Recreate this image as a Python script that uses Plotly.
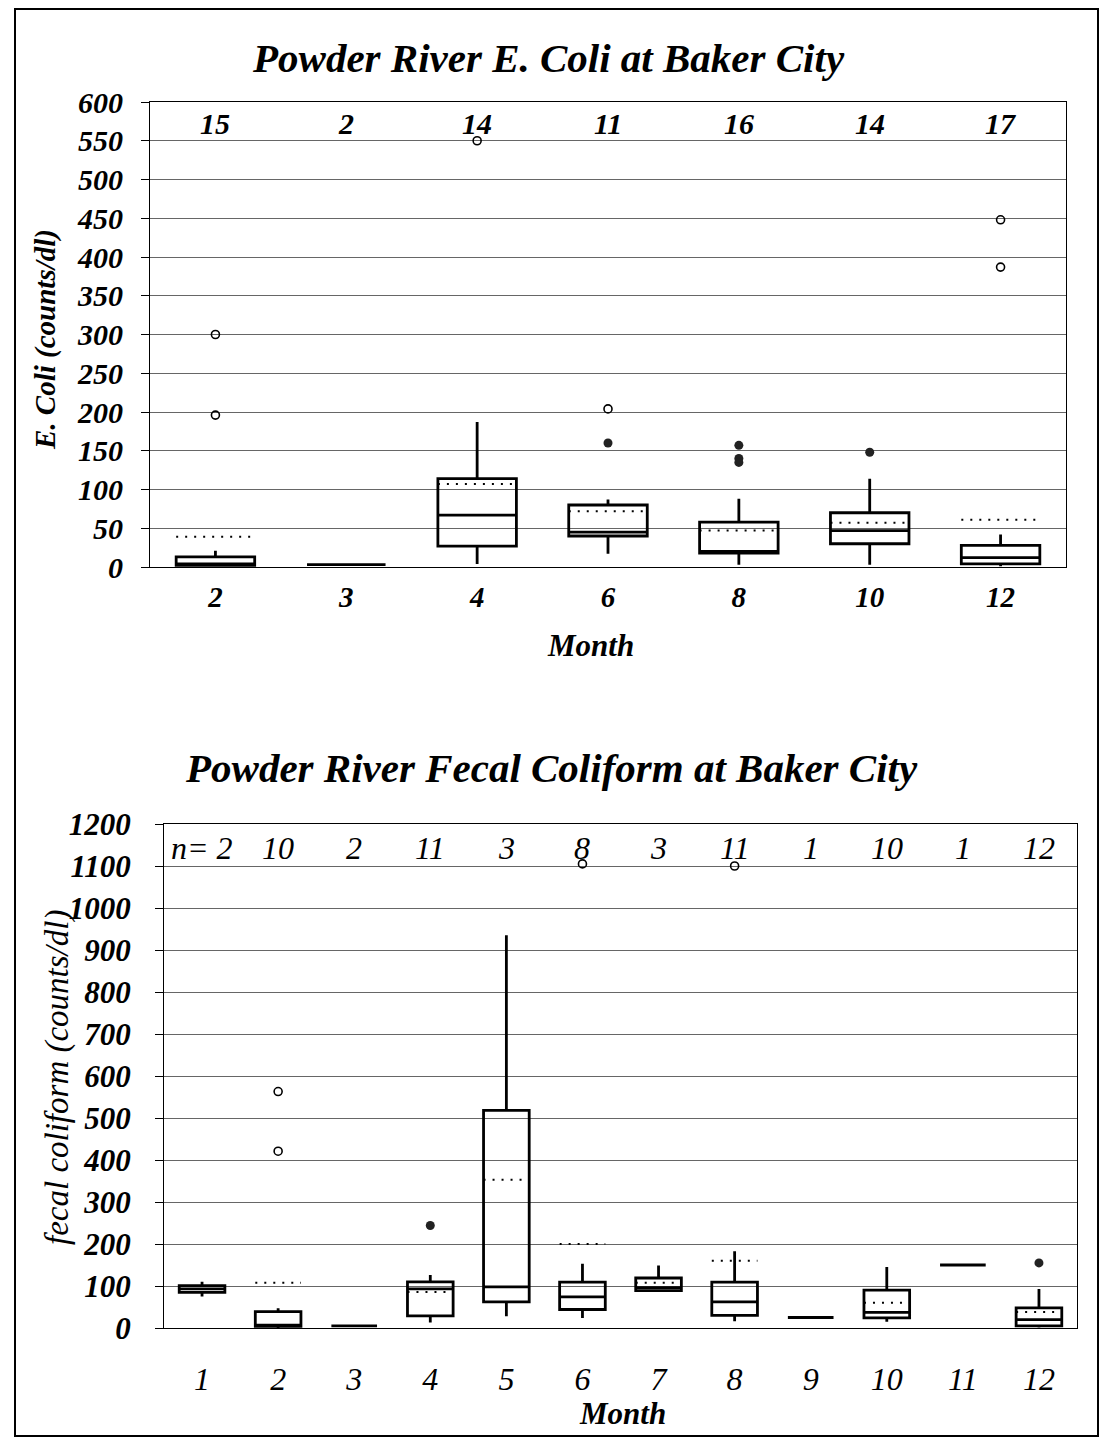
import plotly.graph_objects as go

W, H = 1101, 1442

# ---------------- Top chart: E. coli ----------------
ec_months = ["2", "3", "4", "6", "8", "10", "12"]
ec_n = [15, 2, 14, 11, 16, 14, 17]
ec_q1 = [2, 3, 27, 40, 18, 30, 4]
ec_median = [4, 3, 67, 45, 20, 47, 12]
ec_q3 = [13, 3, 114, 80, 58, 70, 28]
ec_low = [2, 3, 4, 17, 3, 3, 1]
ec_high = [21, 3, 187, 87, 88, 114, 42]
ec_mean = [39, None, 107, 72, 47, 57, 61]
ec_open_month = ["2", "2", "4", "6", "12", "12"]
ec_open_val = [300, 196, 550, 204, 448, 387]
ec_fill_month = ["6", "8", "8", "8", "10"]
ec_fill_val = [160, 157, 140, 135, 148]

# ---------------- Bottom chart: fecal coliform ----------------
fc_months = ["1", "2", "3", "4", "5", "6", "7", "8", "9", "10", "11", "12"]
fc_n = [2, 10, 2, 11, 3, 8, 3, 11, 1, 10, 1, 12]
fc_q1 = [85, 4, 5, 29, 62, 44, 89, 30, 25, 24, 150, 5]
fc_median = [93, 7, 5, 93, 98, 74, 96, 62, 25, 37, 150, 20]
fc_q3 = [101, 39, 5, 110, 518, 109, 119, 109, 25, 90, 150, 48]
fc_low = [75, 0, 5, 13, 28, 24, 89, 16, 25, 15, 150, 1]
fc_high = [110, 47, 5, 126, 935, 153, 149, 183, 25, 145, 150, 93]
fc_mean = [None, 108, None, 86, 353, 200, 108, 160, None, 60, None, 38]
fc_open_month = ["2", "2", "6", "8"]
fc_open_val = [563, 421, 1105, 1100]
fc_fill_month = ["4", "12"]
fc_fill_val = [244, 155]

FONT = "Liberation Serif"
BOX_W = 0.6


def bi(size):
    return dict(family=FONT, size=size, color="black", style="italic", weight="bold")


def it(size):
    return dict(family=FONT, size=size, color="black", style="italic", weight="normal")


fig = go.Figure()


def add_panel(months, q1, med, q3, lo, hi, mean, om, ov, fm, fv, xa, ya):
    idx = list(range(len(months)))
    pos = {m: i for i, m in enumerate(months)}
    fig.add_trace(go.Box(
        x=idx, q1=q1, median=med, q3=q3, lowerfence=lo, upperfence=hi,
        width=BOX_W, whiskerwidth=0, boxpoints=False,
        line=dict(color="black", width=2.8), fillcolor="rgba(0,0,0,0)",
        xaxis=xa, yaxis=ya, showlegend=False, hoverinfo="skip"))
    mx, my = [], []
    for i, m in zip(idx, mean):
        if m is None:
            continue
        mx += [i - BOX_W / 2, i + BOX_W / 2, None]
        my += [m, m, None]
    fig.add_trace(go.Scatter(
        x=mx, y=my, mode="lines", line=dict(color="black", width=2, dash="2px,7px"),
        xaxis=xa, yaxis=ya, showlegend=False, hoverinfo="skip"))
    fig.add_trace(go.Scatter(
        x=[pos[m] for m in om], y=ov, mode="markers",
        marker=dict(symbol="circle-open", size=8, color="black", line=dict(width=1.6)),
        xaxis=xa, yaxis=ya, showlegend=False, hoverinfo="skip"))
    fig.add_trace(go.Scatter(
        x=[pos[m] for m in fm], y=fv, mode="markers",
        marker=dict(symbol="circle", size=9, color="#222"),
        xaxis=xa, yaxis=ya, showlegend=False, hoverinfo="skip"))


add_panel(ec_months, ec_q1, ec_median, ec_q3, ec_low, ec_high, ec_mean,
          ec_open_month, ec_open_val, ec_fill_month, ec_fill_val, "x", "y")
add_panel(fc_months, fc_q1, fc_median, fc_q3, fc_low, fc_high, fc_mean,
          fc_open_month, fc_open_val, fc_fill_month, fc_fill_val, "x2", "y2")


def px_x(p):
    return p / W


def px_y(p):
    return 1 - p / H


annotations = []
# n labels
for i, n in enumerate(ec_n):
    annotations.append(dict(x=i, y=572, xref="x", yref="y", text=str(n),
                            showarrow=False, font=bi(30), yanchor="middle"))
for i, n in enumerate(fc_n):
    t = ("n= " + str(n)) if i == 0 else str(n)
    annotations.append(dict(x=i, y=1143, xref="x2", yref="y2", text=t,
                            showarrow=False, font=it(32), yanchor="middle"))

# titles
annotations += [
    dict(x=px_x(548), y=px_y(58), xref="paper", yref="paper", text="Powder River E. Coli at Baker City",
         showarrow=False, font=bi(41), xanchor="center", yanchor="middle"),
    dict(x=px_x(551), y=px_y(768), xref="paper", yref="paper",
         text="Powder River Fecal Coliform at Baker City",
         showarrow=False, font=bi(41), xanchor="center", yanchor="middle"),
    dict(x=px_x(590), y=px_y(645), xref="paper", yref="paper", text="Month",
         showarrow=False, font=bi(31), xanchor="center", yanchor="middle"),
    dict(x=px_x(622), y=px_y(1413), xref="paper", yref="paper", text="Month",
         showarrow=False, font=bi(31), xanchor="center", yanchor="middle"),
    dict(x=px_x(45), y=px_y(340), xref="paper", yref="paper", text="E. Coli (counts/dl)",
         showarrow=False, font=bi(29), textangle=-90, xanchor="center", yanchor="middle"),
    dict(x=px_x(57), y=px_y(1078), xref="paper", yref="paper", text="fecal coliform (counts/dl)",
         showarrow=False, font=it(33), textangle=-90, xanchor="center", yanchor="middle"),
]

axis_common = dict(showline=True, linecolor="black", linewidth=1, mirror=True, zeroline=False,
                   automargin=False)

fig.update_layout(
    width=W, height=H, autosize=False,
    margin=dict(l=0, r=0, t=0, b=0, pad=0, autoexpand=False),
    paper_bgcolor="white", plot_bgcolor="white",
    annotations=annotations,
    xaxis=dict(domain=[px_x(150), px_x(1066)], anchor="y", range=[-0.5, 6.5],
               tickmode="array", tickvals=list(range(len(ec_months))), ticktext=ec_months,
               showgrid=False, ticks="", tickfont=bi(29), ticklabelstandoff=4, **axis_common),
    yaxis=dict(domain=[px_y(567), px_y(102)], anchor="x", range=[0, 600], dtick=50,
               showgrid=True, gridcolor="#666", gridwidth=1, ticks="outside", ticklen=8,
               tickcolor="black", tickfont=bi(30), ticklabelstandoff=12, **axis_common),
    xaxis2=dict(domain=[px_x(164), px_x(1077)], anchor="y2", range=[-0.5, 11.5],
                tickmode="array", tickvals=list(range(len(fc_months))), ticktext=fc_months,
                showgrid=False, ticks="", tickfont=it(32), ticklabelstandoff=23, **axis_common),
    yaxis2=dict(domain=[px_y(1328), px_y(824)], anchor="x2", range=[0, 1200], dtick=100,
                showgrid=True, gridcolor="#666", gridwidth=1, ticks="outside", ticklen=8,
                tickcolor="black", tickfont=bi(31), ticklabelstandoff=18, **axis_common),
    shapes=[dict(type="rect", xref="paper", yref="paper", x0=px_x(15), x1=px_x(1098),
                 y0=px_y(1436), y1=px_y(9), line=dict(color="black", width=2))],
)

fig.write_html(
    "out.html",
    config={"displayModeBar": False},
    post_script=(
        "document.documentElement.style.margin='0';"
        "document.body.style.margin='0';document.body.style.padding='0';"
        "document.documentElement.style.overflow='hidden';"
        "var d=document.getElementById('{plot_id}');"
        "d.style.position='absolute';d.style.left='0px';d.style.top='0px';"
    ),
)
